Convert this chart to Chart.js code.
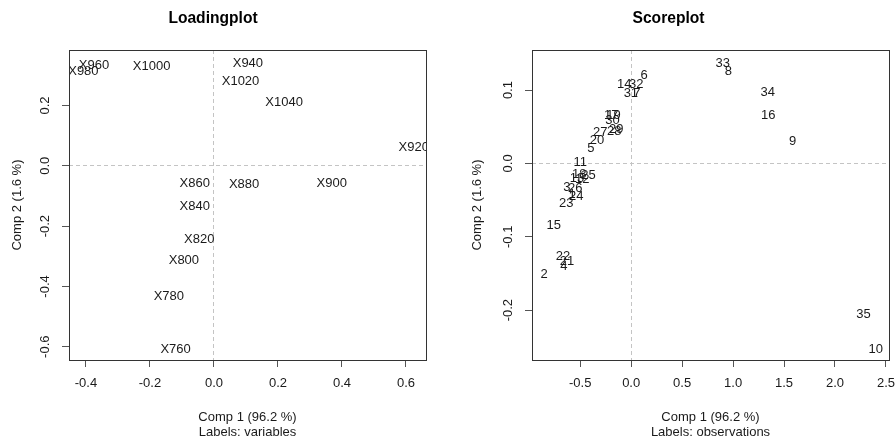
<!DOCTYPE html>
<html>
<head>
<meta charset="utf-8">
<script src="https://cdn.jsdelivr.net/npm/chart.js@4.4.0/dist/chart.umd.min.js"></script>
<style>
html, body { margin: 0; padding: 0; background: #fff; width: 896px; height: 444px; overflow: hidden; position: relative; }
canvas { position: absolute; top: 0; }
#loading-chart { left: 0; }
#score-chart { left: 448px; }
</style>
</head>
<body>
<canvas id="loading-chart" width="496" height="444"></canvas>
<canvas id="score-chart" width="524" height="444"></canvas>
<script>
// loadings of the spectral variables
var loadingVars = ['X760', 'X780', 'X800', 'X820', 'X840', 'X860', 'X880', 'X900',
                   'X920', 'X940', 'X960', 'X980', 'X1000', 'X1020', 'X1040'];
var loadingComp1 = [-0.120, -0.141, -0.094, -0.046, -0.060, -0.060, 0.094, 0.368,
                    0.624, 0.106, -0.375, -0.408, -0.195, 0.083, 0.219];
var loadingComp2 = [-0.609, -0.434, -0.315, -0.244, -0.134, -0.058, -0.061, -0.058,
                    0.060, 0.340, 0.334, 0.314, 0.328, 0.279, 0.210];
var loadingXTicks = [-0.4, -0.2, 0.0, 0.2, 0.4, 0.6];
var loadingYTicks = [-0.6, -0.4, -0.2, 0.0, 0.2];

// scores of the observations 1..35
var scoreObs = ['1', '2', '3', '4', '5', '6', '7', '8', '9', '10', '11', '12', '13', '14', '15', '16', '17', '18',
                '19', '20', '21', '22', '23', '24', '25', '26', '27', '28', '29', '30', '31', '32', '33', '34', '35'];
var scoreComp1 = [-0.580, -0.853, -0.630, -0.660, -0.395, 0.127, 0.056, 0.954, 1.585, 2.400, -0.500, -0.480,
                  -0.532, -0.069, -0.760, 1.346, -0.196, -0.510, -0.173, -0.336, -0.630, -0.670, -0.637, -0.539,
                  -0.419, -0.549, -0.304, -0.167, -0.147, -0.183, -0.003, 0.049, 0.899, 1.340, 2.280];
var scoreComp2 = [-0.042, -0.151, -0.033, -0.141, 0.020, 0.120, 0.096, 0.126, 0.0295, -0.254, 0.002, -0.022,
                  -0.020, 0.108, -0.084, 0.065, 0.066, -0.0146, 0.066, 0.031, -0.134, -0.127, -0.054, -0.045,
                  -0.016, -0.034, 0.042, 0.043, 0.046, 0.059, 0.0955, 0.108, 0.136, 0.097, -0.206];
var scoreXTicks = [-0.5, 0.0, 0.5, 1.0, 1.5, 2.0, 2.5];
var scoreYTicks = [-0.2, -0.1, 0.0, 0.1];

Chart.defaults.font.family = '"Liberation Sans", Arial, sans-serif';
Chart.defaults.font.size = 13;
Chart.defaults.color = '#1a1a1a';

// text labels drawn at each point, clipped to the plot region
var pointLabels = {
    id: 'pointLabels',
    afterDatasetsDraw: function(chart) {
        var ctx = chart.ctx;
        var area = chart.chartArea;
        var names = chart.data.datasets[0].names;
        var meta = chart.getDatasetMeta(0);
        ctx.save();
        ctx.beginPath();
        ctx.rect(area.left, area.top, area.right - area.left, area.bottom - area.top);
        ctx.clip();
        ctx.font = '13px "Liberation Sans", Arial, sans-serif';
        ctx.fillStyle = '#1a1a1a';
        ctx.textAlign = 'center';
        ctx.textBaseline = 'middle';
        meta.data.forEach(function(pt, i) {
            ctx.fillText(names[i], pt.x, pt.y);
        });
        ctx.restore();
    }
};

// box around the plot region
var plotBox = {
    id: 'plotBox',
    afterDraw: function(chart) {
        var a = chart.chartArea;
        var ctx = chart.ctx;
        ctx.save();
        ctx.strokeStyle = '#333';
        ctx.lineWidth = 1;
        ctx.strokeRect(Math.round(a.left) + 0.5, Math.round(a.top) + 0.5,
                       Math.round(a.right - a.left), Math.round(a.bottom - a.top));
        ctx.restore();
    }
};

function zeroLine(c) {
    return c.tick && c.tick.value === 0 ? '#c4c4c4' : 'rgba(0,0,0,0)';
}

function makePanel(id, title, names, xs, ys, xMin, xMax, yMin, yMax, xTicks, yTicks, yAxisWidth, yTitlePad, rightPad, subtitle) {
    var points = xs.map(function(x, i) { return { x: x, y: ys[i] }; });
    return new Chart(document.getElementById(id), {
        type: 'scatter',
        data: {
            datasets: [{
                data: points,
                names: names,
                pointRadius: 0,
                pointHoverRadius: 0
            }]
        },
        options: {
            responsive: false,
            animation: false,
            events: [],
            layout: { padding: { left: 0, top: 0, right: rightPad, bottom: 0 } },
            plugins: {
                legend: { display: false },
                tooltip: { enabled: false },
                title: {
                    display: true,
                    text: title,
                    color: '#000',
                    font: { size: 15.6, weight: 'bold' },
                    padding: { top: 9.6, bottom: 21.7 }
                }
            },
            scales: {
                x: {
                    type: 'linear',
                    min: xMin,
                    max: xMax,
                    afterBuildTicks: function(s) { s.ticks = xTicks.map(function(v) { return { value: v }; }); },
                    afterFit: function(s) { s.height = 84; },
                    grid: { color: zeroLine, tickColor: '#555', tickLength: 7, lineWidth: 1 },
                    border: { display: false, dash: function(c) { return c.tick ? [4, 3] : []; } },
                    ticks: {
                        autoSkip: false, maxRotation: 0, padding: 9,
                        callback: function(v) { return Number(v).toFixed(1); }
                    },
                    title: {
                        display: true,
                        text: ['Comp 1 (96.2 %)', subtitle],
                        font: { size: 13, lineHeight: 1.15 },
                        padding: { top: 0, bottom: 4 }
                    }
                },
                y: {
                    type: 'linear',
                    min: yMin,
                    max: yMax,
                    afterBuildTicks: function(s) { s.ticks = yTicks.map(function(v) { return { value: v }; }); },
                    afterFit: function(s) { s.width = yAxisWidth; },
                    grid: { color: zeroLine, tickColor: '#555', tickLength: 7, lineWidth: 1 },
                    border: { display: false, dash: function(c) { return c.tick ? [4, 3] : []; } },
                    ticks: {
                        autoSkip: false, minRotation: 90, maxRotation: 90, crossAlign: 'center', padding: 5,
                        callback: function(v) { return Number(v).toFixed(1); }
                    },
                    title: {
                        display: true,
                        text: 'Comp 2 (1.6 %)',
                        font: { size: 13 },
                        padding: { top: yTitlePad, bottom: 0 }
                    }
                }
            }
        },
        plugins: [pointLabels, plotBox]
    });
}

makePanel('loading-chart', 'Loadingplot', loadingVars, loadingComp1, loadingComp2,
          -0.453, 0.6625, -0.644, 0.384, loadingXTicks, loadingYTicks, 69, 10, 70, 'Labels: variables');

makePanel('score-chart', 'Scoreplot', scoreObs, scoreComp1, scoreComp2,
          -0.973, 2.53, -0.268, 0.1546, scoreXTicks, scoreYTicks, 84, 22, 83, 'Labels: observations');
</script>
</body>
</html>
